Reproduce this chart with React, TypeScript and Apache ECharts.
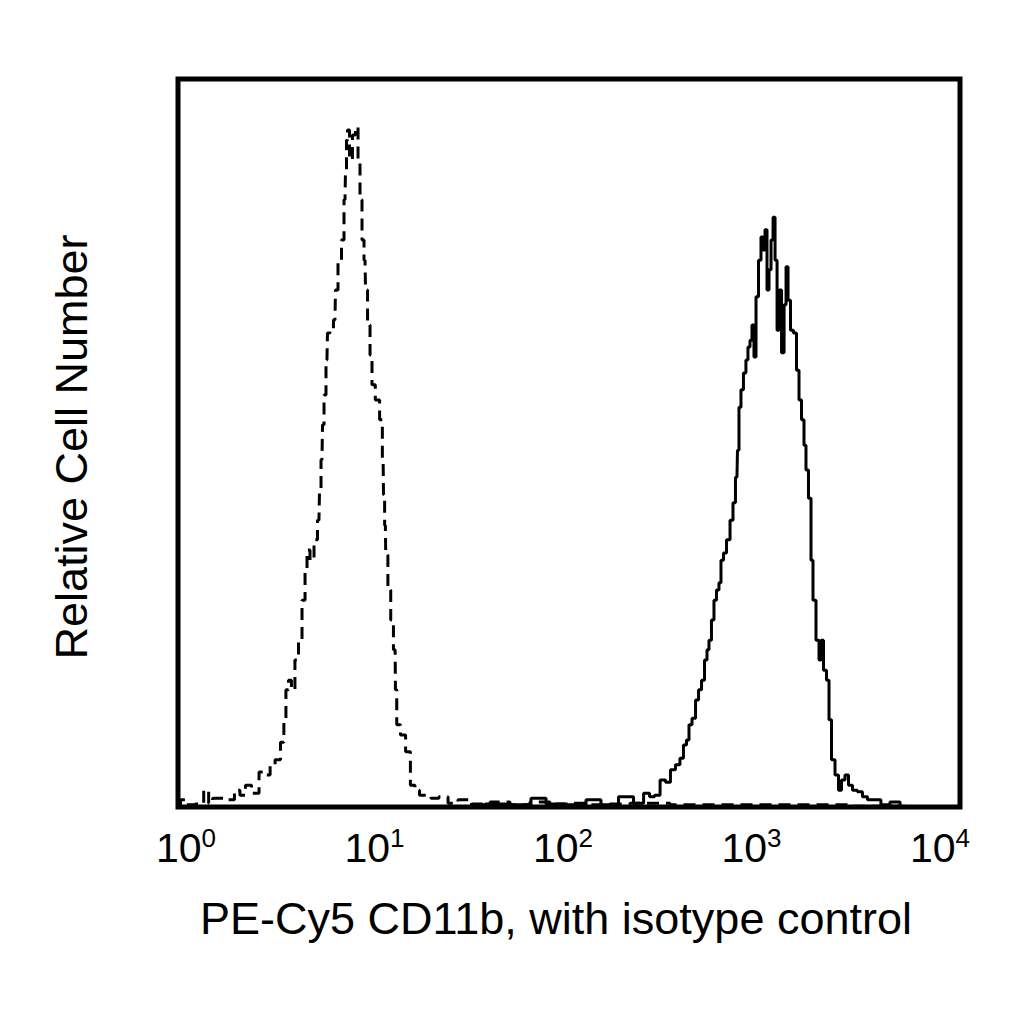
import React, { useEffect, useRef } from 'react';
import * as echarts from 'echarts';

// Isotype control (dashed) histogram: fluorescence intensity / relative count
const isotypeX = [1.00, 1.06, 1.15, 1.30, 1.41, 1.46, 1.55, 1.74, 1.89, 2.00, 2.15, 2.28, 2.48, 2.72, 2.89, 3.03, 3.25, 3.44, 3.52, 3.61, 3.74, 3.87, 4.06, 4.21, 4.41, 4.52, 4.62, 4.85, 5.08, 5.26, 5.33, 5.45, 5.52, 5.65, 5.78, 5.85, 6.13, 6.35, 6.43, 6.74, 6.98, 7.15, 7.23, 7.32, 7.41, 7.67, 7.94, 8.24, 8.43, 8.63, 8.84, 9.05, 9.16, 9.49, 9.71, 9.94, 10.5, 11.0, 11.2, 11.3, 11.5, 11.6, 12.1, 12.4, 12.9, 13.0, 13.3, 14.2, 15.0, 15.9, 16.7, 17.7, 18.8, 20.6, 22.7, 25.5, 28.7, 35.1, 44.4, 56.1, 71.1, 89.9, 114, 144, 182, 231, 468, 1514, 4925];
const isotypeY = [0.3, 1.0, 0.3, 0.4, 2.3, 0.5, 1.2, 1.2, 1.0, 2.3, 1.6, 3.0, 1.9, 4.8, 4.4, 5.8, 6.5, 8.9, 12.0, 16.1, 17.4, 16.1, 20.2, 22.9, 28.4, 32.6, 35.3, 33.9, 36.7, 39.4, 43.5, 47.7, 52.5, 56.6, 61.4, 65.1, 65.5, 66.9, 71.0, 75.1, 77.9, 83.4, 87.5, 91.6, 93.0, 88.9, 92.3, 93.4, 88.9, 83.4, 77.9, 75.1, 71.0, 66.2, 62.1, 58.0, 55.9, 53.2, 47.7, 42.9, 38.7, 34.6, 29.8, 25.7, 21.6, 16.1, 11.3, 9.9, 7.6, 3.0, 2.3, 1.6, 1.6, 1.2, 1.4, 0.5, 1.0, 0.4, 0.7, 0.3, 0.7, 0.4, 0.5, 0.3, 0.4, 0.5, 0.3, 0.3, 0.1];

// PE-Cy5 CD11b (solid) histogram
const cd11bX = [31.2, 44.4, 56.1, 72.8, 80.0, 114, 131, 162, 198, 231, 251, 266, 282, 303, 321, 340, 361, 378, 392, 406, 416, 436, 452, 468, 485, 502, 514, 526, 545, 558, 578, 592, 606, 628, 651, 682, 698, 723, 732, 749, 767, 794, 813, 833, 853, 873, 894, 916, 948, 971, 994, 1018, 1042, 1067, 1093, 1119, 1146, 1173, 1200, 1245, 1274, 1304, 1335, 1382, 1432, 1484, 1519, 1574, 1611, 1649, 1709, 1750, 1791, 1878, 1923, 1968, 2039, 2113, 2163, 2241, 2349, 2433, 2521, 2642, 2738, 2902, 3076, 3266, 3465, 3758, 4130, 4653, 5237];
const cd11bY = [0.3, 0.4, 0.3, 1.2, 0.4, 0.3, 1.0, 0.3, 1.4, 0.5, 1.9, 1.4, 1.6, 3.7, 3.4, 5.1, 5.8, 6.7, 8.5, 9.2, 11.3, 12.2, 14.7, 16.1, 17.4, 20.2, 21.6, 22.9, 25.7, 28.4, 29.8, 30.8, 33.9, 34.9, 36.7, 39.4, 41.8, 45.3, 49.0, 54.9, 57.3, 59.6, 61.4, 63.2, 64.1, 66.2, 61.8, 70.1, 75.1, 78.3, 76.5, 79.3, 71.0, 73.8, 77.9, 81.0, 75.1, 65.5, 71.0, 62.4, 69.0, 74.2, 69.6, 65.5, 65.1, 60.0, 55.9, 53.2, 49.7, 46.3, 42.4, 33.9, 28.4, 22.9, 20.2, 22.9, 18.8, 17.4, 12.0, 6.5, 4.4, 2.3, 3.7, 4.4, 3.0, 2.3, 2.1, 1.4, 1.0, 1.0, 0.3, 0.7, 0.1];

// Decade tick labels (10^exponent)
const decadeTicks = [1, 10, 100, 1000, 10000];
const decadeExponents = ['0', '1', '2', '3', '4'];

const xTitle = 'PE-Cy5 CD11b, with isotype control';
const yTitle = 'Relative Cell Number';

const FONT = '"Liberation Sans", Arial, Helvetica, sans-serif';

export default function App() {
  const ref = useRef<HTMLDivElement>(null);

  useEffect(() => {
    if (!ref.current) return;
    const chart = echarts.init(ref.current, null, { renderer: 'svg' });

    const labelFormatter = (v: number) => {
      const lv = Math.log10(v);
      const i = decadeTicks.findIndex((t) => Math.abs(Math.log10(t) - lv) < 0.01);
      return i < 0 ? '' : `{b|10}{s|${decadeExponents[i]}}`;
    };

    chart.setOption({
      animation: false,
      backgroundColor: '#ffffff',
      grid: {
        left: 178,
        right: 64,
        top: 79,
        bottom: 217,
        show: true,
        borderColor: '#000',
        borderWidth: 5,
        backgroundColor: 'transparent',
      },
      xAxis: [
        {
          type: 'log',
          logBase: 10,
          min: 1,
          max: 10000,
          position: 'top',
          axisLine: { show: false },
          axisTick: { show: false },
          axisLabel: { show: false },
          splitLine: { show: false },
        },
        {
          type: 'log',
          logBase: 10,
          min: 0.907,
          max: 12764,
          position: 'bottom',
          axisLine: { show: false },
          axisTick: { show: false },
          splitLine: { show: false },
          axisLabel: {
            show: true,
            margin: 18,
            showMinLabel: true,
            showMaxLabel: true,
            hideOverlap: false,
            fontSize: 41,
            fontFamily: FONT,
            color: '#000',
            formatter: labelFormatter,
            rich: {
              b: { fontSize: 41, lineHeight: 46, fontFamily: FONT, color: '#000' },
              s: { fontSize: 26, verticalAlign: 'top', fontFamily: FONT, color: '#000' },
            },
          },
          name: xTitle,
          nameLocation: 'middle',
          nameGap: 89,
          nameTextStyle: { fontSize: 45, fontFamily: FONT, color: '#000', padding: [0, 26, 0, 0] },
        },
      ],
      yAxis: {
        type: 'value',
        min: 0,
        max: 100,
        axisLine: { show: false },
        axisTick: { show: false },
        axisLabel: { show: false },
        splitLine: { show: false },
        name: yTitle,
        nameLocation: 'middle',
        nameRotate: 90,
        nameGap: 84,
        nameTextStyle: { fontSize: 45, fontFamily: FONT, color: '#000', padding: [0, 8, 0, 0] },
      },
      series: [
        {
          name: 'Isotype control',
          type: 'line',
          xAxisIndex: 0,
          yAxisIndex: 0,
          step: 'middle',
          symbol: 'none',
          data: isotypeX.map((x, i) => [x, isotypeY[i]]),
          lineStyle: { color: '#000', width: 3, type: [12, 7] },
          z: 3,
        },
        {
          name: 'PE-Cy5 CD11b',
          type: 'line',
          xAxisIndex: 0,
          yAxisIndex: 0,
          step: 'middle',
          symbol: 'none',
          data: cd11bX.map((x, i) => [x, cd11bY[i]]),
          lineStyle: { color: '#000', width: 3 },
          z: 3,
        },
      ],
    });

    return () => chart.dispose();
  }, []);

  return (
    <div
      ref={ref}
      style={{ position: 'fixed', left: 0, top: 0, width: 1024, height: 1024, background: '#fff' }}
    />
  );
}
